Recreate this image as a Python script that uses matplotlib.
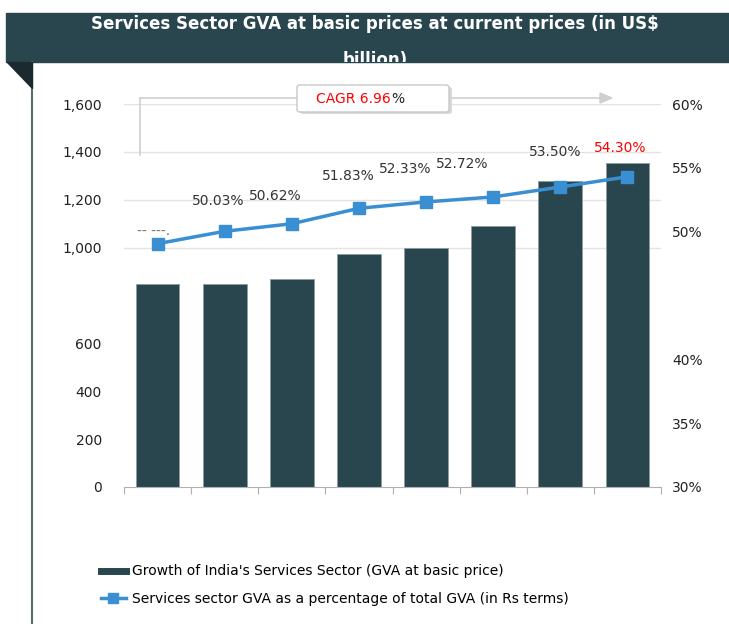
import matplotlib.pyplot as plt
import numpy as np
from matplotlib.patches import Rectangle, Polygon, FancyBboxPatch
from matplotlib.lines import Line2D

# values
gva = [846, 850, 871, 975, 1000, 1092, 1279, 1354]
share = [49.06, 50.03, 50.62, 51.83, 52.33, 52.72, 53.50, 54.30]
share_labels = ['-- ---.', '50.03%', '50.62%', '51.83%', '52.33%', '52.72%', '53.50%', '54.30%']
left_ticks = [0, 200, 400, 600, 1000, 1200, 1400, 1600]
right_ticks = [30, 35, 40, 50, 55, 60]
grid_vals = [1000, 1200, 1400, 1600]
cagr = '6.96'

bar_col = '#29464f'
line_col = '#3a8fd3'
W, H = 729, 624


def px(x, y):
    return (x / W, 1 - y / H)


fig = plt.figure(figsize=(7.29, 6.24), dpi=100)

# title banner
banner = Rectangle(px(6, 62), (W - 6) / W, 49 / H, transform=fig.transFigure,
                   color=bar_col, zorder=0)
fig.patches.append(banner)
fig.text(px(375, 0)[0], px(0, 24)[1], 'Services Sector GVA at basic prices at current prices (in US$',
         color='white', fontsize=12, fontweight='bold', ha='center', va='center', zorder=1)
t2 = fig.text(px(375, 0)[0], px(0, 51)[1], 'billion)', color='white', fontsize=12,
              fontweight='bold', ha='center', va='top', zorder=1)
t2.set_clip_path(banner)
fig.patches.append(Polygon([px(7, 62), px(32, 62), px(32, 88)], closed=True,
                           transform=fig.transFigure, color='#1b2a2f', zorder=3))
fig.lines.append(Line2D([32 / W, 32 / W], [0, 1 - 62 / H], transform=fig.transFigure,
                        color='#5a6a70', lw=1.5, zorder=3))

x = np.arange(len(gva))
ax = fig.add_axes([124 / W, 1 - 487 / H, (661 - 124) / W, (487 - 104) / H])
ax.set_zorder(5)
ax.patch.set_visible(False)
for v in grid_vals:
    ax.axhline(v, color='#e3e3e3', lw=1, zorder=0)
ax.bar(x, gva, width=0.65, color=bar_col, edgecolor='#8d9ca0', linewidth=0.6, zorder=2)
ax.set_xlim(-0.5, len(gva) - 0.5)
ax.set_ylim(0, 1600)
ax.set_yticks(left_ticks)
ax.set_yticklabels([f'{v:,}' for v in left_ticks], fontsize=10, color='#222222')
ax.set_xticks(np.arange(-0.5, len(gva), 1))
ax.set_xticklabels([])
ax.tick_params(axis='x', length=5, color='#b0b0b0', direction='out')
ax.tick_params(axis='y', length=0, pad=16)
for s in ['top', 'left', 'right']:
    ax.spines[s].set_visible(False)
ax.spines['bottom'].set_color('#b0b0b0')

ax2 = ax.twinx()
ax2.plot(x, share, color=line_col, lw=2.5, marker='s', markersize=8, zorder=4)
ax2.set_ylim(30, 60)
ax2.set_yticks(right_ticks)
ax2.set_yticklabels([f'{v}%' for v in right_ticks], fontsize=10, color='#222222')
ax2.tick_params(axis='y', length=0, pad=8)
for s in ax2.spines.values():
    s.set_visible(False)

offs = [(-3, 4), (-5, 17), (-12, 15), (-8, 18), (-15, 19), (-22, 19), (-4, 20), (-5, 16)]
for i, (v, lab) in enumerate(zip(share, share_labels)):
    c = 'red' if i == len(share) - 1 else '#333333'
    if i == 0:
        c = '#777777'
    ax2.annotate(lab, (x[i], v), xytext=offs[i], textcoords='offset points',
                 ha='center', va='bottom', fontsize=10, color=c)

# CAGR bracket and arrow
gcol = '#cfcfcf'
fig.lines.append(Line2D([140 / W, 140 / W], [1 - 98 / H, 1 - 155 / H], transform=fig.transFigure,
                        color=gcol, lw=1.2, zorder=6))
fig.lines.append(Line2D([140 / W, 602 / W], [1 - 98 / H, 1 - 98 / H], transform=fig.transFigure,
                        color=gcol, lw=1.2, zorder=6))
fig.patches.append(Polygon([px(600, 93), px(612, 98), px(600, 103)], closed=True,
                           transform=fig.transFigure, color=gcol, zorder=6))
fig.patches.append(FancyBboxPatch(px(300, 114), 152 / W, 27 / H, boxstyle='round,pad=0,rounding_size=0.004',
                                  transform=fig.transFigure, facecolor='#d8d8d8', edgecolor='none', zorder=6))
fig.patches.append(FancyBboxPatch(px(297, 112), 152 / W, 27 / H, boxstyle='round,pad=0,rounding_size=0.004',
                                  transform=fig.transFigure, facecolor='white', edgecolor='#c8c8c8',
                                  lw=1, zorder=7))
t1 = fig.text(px(316, 0)[0], px(0, 99)[1], f'CAGR {cagr}', color='red', fontsize=10,
              ha='left', va='center', zorder=8)
fig.canvas.draw()
bb = t1.get_window_extent()
fig.text(bb.x1 / (W), px(0, 99)[1], '%', color='#222222', fontsize=10,
         ha='left', va='center', zorder=8)

handles = [Line2D([], [], color=bar_col, lw=5),
           Line2D([], [], color=line_col, lw=2.5, marker='s', markersize=7)]
leg = fig.legend(handles, ["Growth of India's Services Sector (GVA at basic price)",
                           'Services sector GVA as a percentage of total GVA (in Rs terms)'],
                 loc='upper left', bbox_to_anchor=px(88, 552), frameon=False, fontsize=10,
                 handlelength=1.8, handletextpad=0.5, labelspacing=0.95)
leg.set_zorder(10)

fig.savefig('out.png', dpi=100)
